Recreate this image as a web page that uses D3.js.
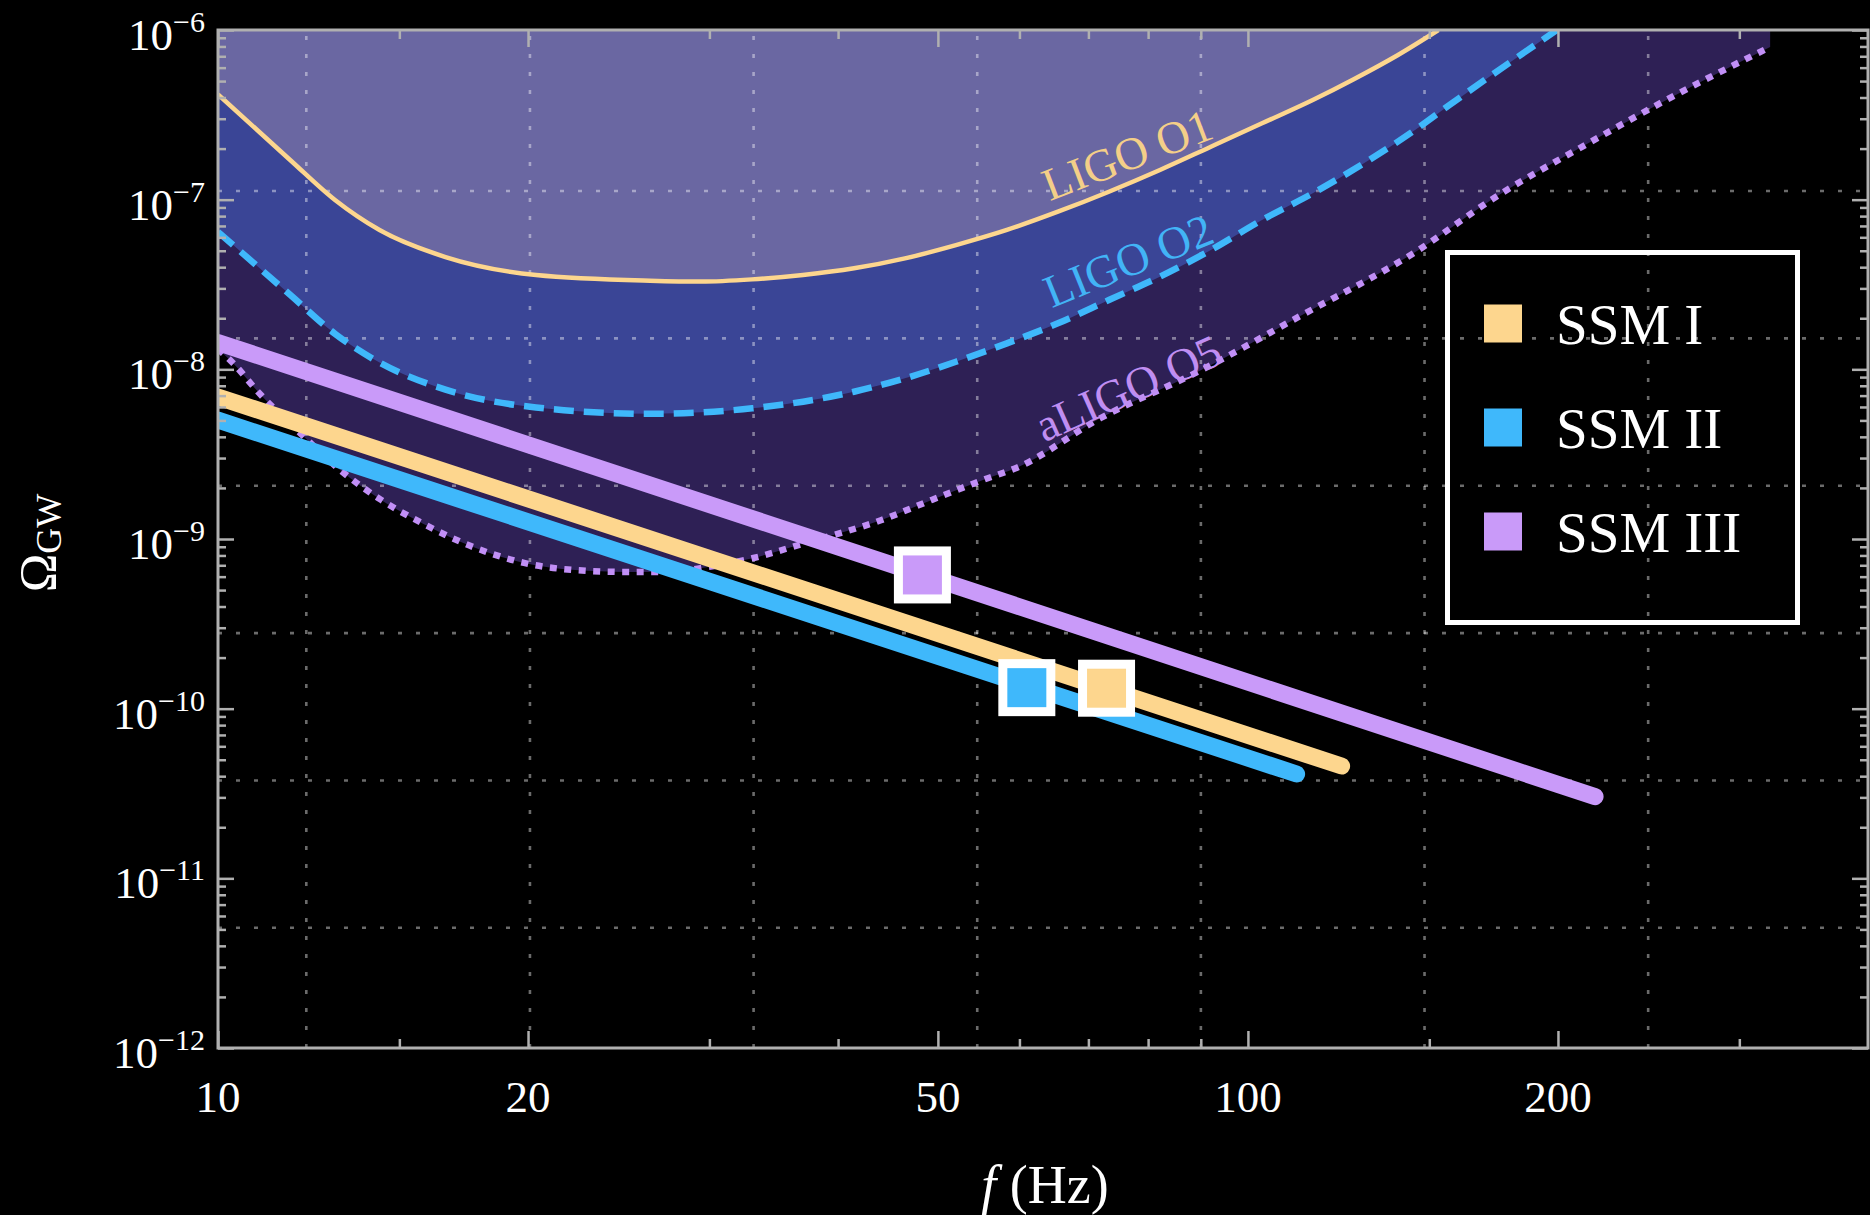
<!DOCTYPE html>
<html><head><meta charset="utf-8">
<script src="https://cdn.jsdelivr.net/npm/d3@7"></script>
<style>
html,body{margin:0;padding:0;background:#000;}
svg{display:block;}
text{font-family:"Liberation Serif","DejaVu Serif",serif;}
</style></head><body>
<svg id="chart" width="1870" height="1215"></svg>
<script>
// ---------------- data ----------------
const xTickMajor = [10, 20, 50, 100, 200];
const xTickMinor = [15, 30, 40, 60, 70, 80, 90, 150, 300];
const yExponents = [-12, -11, -10, -9, -8, -7, -6];
const gridLnF = [2.5, 3, 3.5, 4, 4.5, 5, 5.5];
const gridLnOmega = [-16, -18, -20, -22, -24, -26];

const detectorNames = ["LIGO O1", "LIGO O2", "aLIGO O5"];
const o1F = [10, 11.75, 12.99, 14.35, 16.63, 20.36, 26.27, 29.44, 33.0, 36.98, 41.45, 46.45, 52.06, 58.34, 65.39, 73.28, 82.14, 92.06, 103.2, 115.6, 126.7, 139.6, 153.1];
const o1Omega = [4.17e-7, 1.714e-7, 9.95e-8, 6.62e-8, 4.59e-8, 3.60e-8, 3.33e-8, 3.29e-8, 3.39e-8, 3.60e-8, 3.94e-8, 4.51e-8, 5.40e-8, 6.63e-8, 8.49e-8, 1.114e-7, 1.496e-7, 2.052e-7, 2.818e-7, 3.867e-7, 5.13e-7, 7.08e-7, 1.0e-6];
const o2F = [10, 11.75, 12.99, 14.35, 16.63, 20.36, 26.27, 33.0, 41.45, 46.45, 52.06, 58.34, 65.39, 73.28, 82.14, 92.06, 103.2, 115.6, 129.6, 145.3, 157.1, 199.5];
const o2Omega = [6.46e-8, 2.75e-8, 1.62e-8, 1.096e-8, 7.59e-9, 5.96e-9, 5.47e-9, 5.89e-9, 7.38e-9, 8.85e-9, 1.109e-8, 1.423e-8, 1.867e-8, 2.562e-8, 3.516e-8, 5.05e-8, 7.59e-8, 1.09e-7, 1.638e-7, 2.574e-7, 3.63e-7, 1.0e-6];
const o5F = [10, 10.34, 10.96, 12.01, 13.14, 14.40, 15.78, 17.69, 19.82, 22.22, 24.89, 27.29, 29.91, 33.11, 37.14, 44.02, 49.32, 55.31, 59.8, 71.8, 89.7, 112.2, 144.9, 175.4, 212.3, 257.0, 321.4];
const o5Omega = [1.32e-8, 1.09e-8, 7.26e-9, 4.22e-9, 2.55e-9, 1.70e-9, 1.24e-9, 8.97e-10, 7.23e-10, 6.56e-10, 6.40e-10, 6.40e-10, 6.84e-10, 7.73e-10, 9.46e-10, 1.29e-9, 1.70e-9, 2.23e-9, 2.65e-9, 5.13e-9, 9.77e-9, 2.05e-8, 4.85e-8, 1.07e-7, 2.09e-7, 3.98e-7, 7.94e-7];
const detectorLabelF = [76.3, 76.5, 76.5];
const detectorLabelOmega = [1.85e-7, 4.4e-8, 7.8e-9];

const ssmNames = ["SSM I", "SSM II", "SSM III"];
const ssmStartF = [10, 10, 10];
const ssmStartOmega = [6.87e-9, 5.02e-9, 1.44e-8];
const ssmEndF = [123.3, 111.5, 217.3];
const ssmEndOmega = [4.59e-11, 4.12e-11, 3.03e-11];
const ssmPeakF = [72.9, 61.0, 48.3];
const ssmPeakOmega = [1.32e-10, 1.33e-10, 6.14e-10];

// ---------------- style ----------------
const ssmColor = ["#fdd68e", "#3fb8fb", "#c99af9"];
const detColor = {line: ["#fdd68e", "#3fb8fb", "#c18ff6"],
                  fill: ["#6a67a2", "#3a4596", "#2e2055"],
                  label: ["#f4cf88", "#42b4f6", "#c08ef2"],
                  angle: [-21, -22, -24]};
const frameColor = "#b0b0b0";

const svg = d3.select("#chart");
const L = 218, R = 1868, T = 30, B = 1048;
const x = d3.scaleLog().domain([10, 400]).range([L, R]);
const y = d3.scaleLog().domain([1e-12, 1e-6]).range([B, T]);

svg.append("rect").attr("width", 1870).attr("height", 1215).attr("fill", "#000");
svg.append("defs").append("clipPath").attr("id", "clip")
  .append("rect").attr("x", L).attr("y", T).attr("width", R - L).attr("height", B - T);

const plot = svg.append("g").attr("clip-path", "url(#clip)");

// filled sensitivity regions (painted from lowest to highest curve)
const series = [
  {f: o1F, o: o1Omega},
  {f: o2F, o: o2Omega},
  {f: o5F, o: o5Omega}
].map(s => s.f.map((f, i) => ({f, o: s.o[i]})));

const area = d3.area().x(d => x(d.f)).y0(y(1e-6)).y1(d => y(d.o)).curve(d3.curveMonotoneX);
[2, 1, 0].forEach(i => {
  plot.append("path").attr("d", area(series[i])).attr("fill", detColor.fill[i]);
});

// grid lines
const gridG = plot.append("g").attr("stroke", "rgba(255,255,255,0.42)").attr("stroke-width", 2.6)
  .attr("stroke-dasharray", "4,14");
gridLnF.forEach(v => {
  const xv = x(Math.exp(v));
  gridG.append("line").attr("x1", xv).attr("x2", xv).attr("y1", B).attr("y2", T);
});
gridLnOmega.forEach(v => {
  const yv = y(Math.exp(v));
  gridG.append("line").attr("x1", L).attr("x2", R).attr("y1", yv).attr("y2", yv);
});

// detector curves
const line = d3.line().x(d => x(d.f)).y(d => y(d.o)).curve(d3.curveMonotoneX);
plot.append("path").attr("d", line(series[0])).attr("fill", "none")
  .attr("stroke", detColor.line[0]).attr("stroke-width", 4.5);
plot.append("path").attr("d", line(series[1])).attr("fill", "none")
  .attr("stroke", detColor.line[1]).attr("stroke-width", 6.5).attr("stroke-dasharray", "20,10");
plot.append("path").attr("d", line(series[2])).attr("fill", "none")
  .attr("stroke", detColor.line[2]).attr("stroke-width", 6.5).attr("stroke-dasharray", "7,7.5");

// detector labels
detectorNames.forEach((n, i) => {
  svg.append("text")
    .attr("transform", `translate(${x(detectorLabelF[i])},${y(detectorLabelOmega[i])}) rotate(${detColor.angle[i]})`)
    .attr("text-anchor", "middle").attr("dy", "0.35em")
    .attr("font-size", 46).attr("fill", detColor.label[i]).text(n);
});

// SSM lines (drawn blue, yellow, purple)
const sline = d3.line().x(d => x(d.f)).y(d => y(d.o));
[1, 0, 2].forEach(i => {
  plot.append("path")
    .attr("d", sline([{f: ssmStartF[i], o: ssmStartOmega[i]}, {f: ssmEndF[i], o: ssmEndOmega[i]}]))
    .attr("fill", "none").attr("stroke", ssmColor[i]).attr("stroke-width", 17)
    .attr("stroke-linecap", "round");
});

// peak markers
ssmNames.forEach((n, i) => {
  svg.append("rect")
    .attr("x", x(ssmPeakF[i]) - 24).attr("y", y(ssmPeakOmega[i]) - 24)
    .attr("width", 48).attr("height", 48)
    .attr("fill", ssmColor[i]).attr("stroke", "#fff").attr("stroke-width", 9);
});

// axes ticks (inward) on all four sides
function styleAxis(g) {
  g.select(".domain").remove();
  g.selectAll(".tick line").attr("stroke", frameColor).attr("stroke-width", 2.5);
  g.selectAll(".tick text").remove();
}
const yAll = y.ticks();
const yMajorVals = yExponents.map(e => Math.pow(10, e));
const yMinorVals = yAll.filter(v => !yMajorVals.some(m => Math.abs(v / m - 1) < 1e-6));

svg.append("g").attr("transform", `translate(0,${B})`)
  .call(d3.axisBottom(x).tickValues(xTickMajor).tickSizeInner(-17).tickSizeOuter(0).tickFormat("")).call(styleAxis);
svg.append("g").attr("transform", `translate(0,${B})`)
  .call(d3.axisBottom(x).tickValues(xTickMinor).tickSizeInner(-9).tickSizeOuter(0).tickFormat("")).call(styleAxis);
svg.append("g").attr("transform", `translate(0,${T})`)
  .call(d3.axisTop(x).tickValues(xTickMajor).tickSizeInner(-17).tickSizeOuter(0).tickFormat("")).call(styleAxis);
svg.append("g").attr("transform", `translate(0,${T})`)
  .call(d3.axisTop(x).tickValues(xTickMinor).tickSizeInner(-9).tickSizeOuter(0).tickFormat("")).call(styleAxis);
svg.append("g").attr("transform", `translate(${L},0)`)
  .call(d3.axisLeft(y).tickValues(yMajorVals).tickSizeInner(-16).tickSizeOuter(0).tickFormat("")).call(styleAxis);
svg.append("g").attr("transform", `translate(${L},0)`)
  .call(d3.axisLeft(y).tickValues(yMinorVals).tickSizeInner(-8).tickSizeOuter(0).tickFormat("")).call(styleAxis);
svg.append("g").attr("transform", `translate(${R},0)`)
  .call(d3.axisRight(y).tickValues(yMajorVals).tickSizeInner(-16).tickSizeOuter(0).tickFormat("")).call(styleAxis);
svg.append("g").attr("transform", `translate(${R},0)`)
  .call(d3.axisRight(y).tickValues(yMinorVals).tickSizeInner(-8).tickSizeOuter(0).tickFormat("")).call(styleAxis);

// frame
svg.append("rect").attr("x", L).attr("y", T).attr("width", R - L).attr("height", B - T)
  .attr("fill", "none").attr("stroke", frameColor).attr("stroke-width", 3);

// tick labels
xTickMajor.forEach(v => {
  svg.append("text").attr("x", x(v)).attr("y", B + 64).attr("text-anchor", "middle")
    .attr("font-size", 45).attr("fill", "#fff").text(v);
});
yExponents.forEach(e => {
  const t = svg.append("text").attr("x", 205).attr("y", y(Math.pow(10, e)) + 20)
    .attr("text-anchor", "end").attr("fill", "#fff");
  t.append("tspan").attr("font-size", 45).text("10");
  t.append("tspan").attr("font-size", 30).attr("dy", -18).text("\u2212" + Math.abs(e));
});

// axis titles
const xt = svg.append("text").attr("x", 1045).attr("y", 1203).attr("text-anchor", "middle")
  .attr("font-size", 54).attr("fill", "#fff");
xt.append("tspan").attr("font-style", "italic").text("f");
xt.append("tspan").text("\u00a0(Hz)");

const yt = svg.append("text").attr("transform", "translate(56,543) rotate(-90)")
  .attr("text-anchor", "middle").attr("fill", "#fff");
yt.append("tspan").attr("font-size", 52).text("\u03a9");
yt.append("tspan").attr("font-size", 36).attr("dy", 5).text("GW");

// legend
const lg = svg.append("g");
lg.append("rect").attr("x", 1447.5).attr("y", 252.5).attr("width", 350).attr("height", 370)
  .attr("fill", "none").attr("stroke", "#fff").attr("stroke-width", 5);
ssmNames.forEach((n, i) => {
  const cy = 323.5 + i * 104;
  lg.append("rect").attr("x", 1484).attr("y", cy - 19).attr("width", 38).attr("height", 38)
    .attr("fill", ssmColor[i]);
  lg.append("text").attr("x", 1556).attr("y", cy + 20).attr("font-size", 57)
    .attr("fill", "#fff").text(n);
});
</script></body></html>
